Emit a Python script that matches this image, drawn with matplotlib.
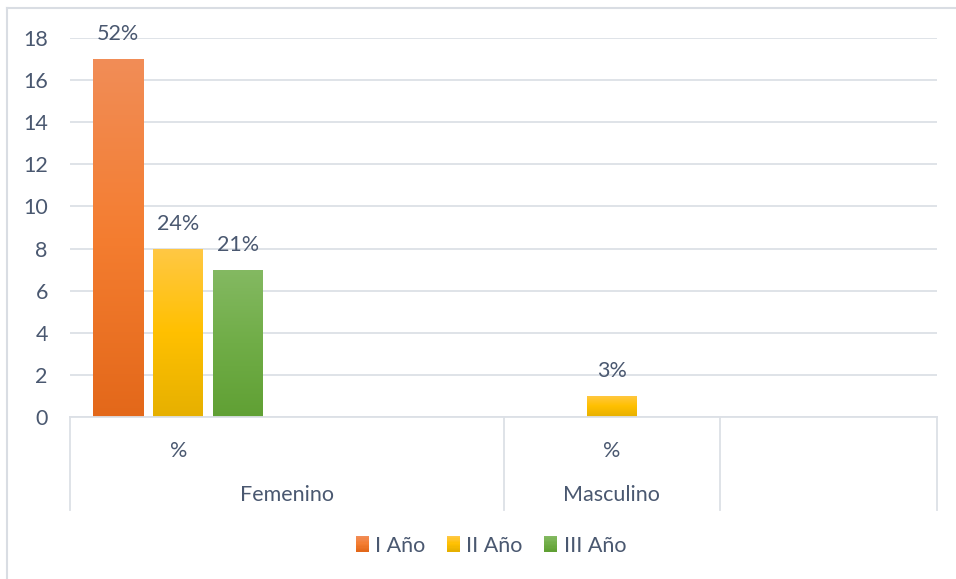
import matplotlib.pyplot as plt
import numpy as np
from matplotlib.colors import LinearSegmentedColormap
from matplotlib.legend_handler import HandlerBase
from matplotlib.patches import Rectangle
import matplotlib.transforms as mtransforms

plt.rcParams['font.family'] = ['Lato', 'DejaVu Sans']

# data: 4 category slots on the axis (Femenino has "%" and a blank slot)
sub_labels = ['%', '', '%', '']
group_labels = ['Femenino', 'Masculino']
group_centers = [0.5, 2]
series = ['I Año', 'II Año', 'III Año']
values = {
    'I Año':   [17, np.nan, np.nan, np.nan],
    'II Año':  [8, np.nan, 1, np.nan],
    'III Año': [7, np.nan, np.nan, np.nan],
}
pct_labels = {
    'I Año':   ['52%', '', '', ''],
    'II Año':  ['24%', '', '3%', ''],
    'III Año': ['21%', '', '', ''],
}

# gradient stops top -> mid -> bottom
grads = {
    'I Año':   ['#F18D57', '#F47D30', '#E3681A'],
    'II Año':  ['#FFC845', '#FFC000', '#E6B000'],
    'III Año': ['#84B962', '#70AD47', '#60A034'],
}
txt_col = '#4A5870'
grid_col = '#DCE0E6'
fs = 15.5

fig = plt.figure(figsize=(9.56, 5.79), dpi=100)
ax = fig.add_axes([70/956, 1 - 417/579, (937 - 70)/956, (417 - 38)/579])

slot_px = (937 - 70) / 4
width = 50 / slot_px
step = 60 / slot_px
x = np.arange(len(sub_labels))

for i, s in enumerate(series):
    cmap = LinearSegmentedColormap.from_list(s, grads[s][::-1])
    bars = ax.bar(x + (i - 1) * step, values[s], width, color='none', edgecolor='none')
    for rect, lab in zip(bars, pct_labels[s]):
        h = rect.get_height()
        if not np.isfinite(h) or h == 0:
            continue
        x0 = rect.get_x()
        grad = np.linspace(0, 1, 256).reshape(-1, 1)
        im = ax.imshow(grad, cmap=cmap, origin='lower', aspect='auto',
                       extent=(x0, x0 + rect.get_width(), 0, h), zorder=2)
        im.set_clip_path(rect)
        ax.annotate(lab, (x0 + rect.get_width() / 2, h), xytext=(0, 18),
                    textcoords='offset points', ha='center', va='center',
                    fontsize=fs, color=txt_col)

ax.set_xlim(-0.5, 3.5)
ax.set_ylim(0, 18)
ax.set_yticks(range(0, 19, 2))
ax.grid(axis='y', color=grid_col, lw=1.3)
ax.set_axisbelow(True)
for sp in ['top', 'right', 'left']:
    ax.spines[sp].set_visible(False)
ax.spines['bottom'].set_color(grid_col)
ax.spines['bottom'].set_linewidth(1.3)
ax.tick_params(axis='y', length=0, pad=16, labelsize=fs, labelcolor=txt_col)
ax.set_xticks(x)
ax.set_xticklabels(sub_labels)
ax.tick_params(axis='x', length=0, pad=17, labelsize=fs, labelcolor=txt_col)

# second level of the category axis
trans = mtransforms.blended_transform_factory(ax.transData, ax.transAxes)
for gx, gl in zip(group_centers, group_labels):
    ax.text(gx, -(495 - 417) / 379, gl, transform=trans, ha='center', va='center',
            fontsize=fs, color=txt_col)
for sx in [-0.5, 1.5, 2.5, 3.5]:
    ax.plot([sx, sx], [0, -(510 - 417) / 379], transform=trans, color=grid_col,
            lw=1.3, clip_on=False)

# chart frame (top and left edges visible)
fig.add_artist(plt.Line2D([7/956, 1], [1 - 8/579] * 2, color='#D9DDE3', lw=1.5))
fig.add_artist(plt.Line2D([7/956] * 2, [0, 1 - 8/579], color='#D9DDE3', lw=1.5))


class GradHandler(HandlerBase):
    def __init__(self, cols):
        super().__init__()
        self.cols = cols

    def create_artists(self, legend, orig, xd, yd, w, h, fontsize, trans):
        cmap = LinearSegmentedColormap.from_list('g', self.cols)
        n = 12
        arts = []
        for k in range(n):
            arts.append(Rectangle((xd, yd + h - (k + 1) * h / n), w, h / n + 0.05,
                                  facecolor=cmap(k / (n - 1)), edgecolor='none',
                                  transform=trans))
        return arts


handles = [Rectangle((0, 0), 1, 1) for s in series]
fig.legend(handles, series, loc='center', bbox_to_anchor=(491/956, 1 - 546/579),
           ncol=3, frameon=False, fontsize=fs, labelcolor=txt_col,
           handlelength=0.6, handleheight=0.75, handletextpad=0.3, columnspacing=1.0,
           handler_map={h: GradHandler(grads[s]) for h, s in zip(handles, series)})

plt.savefig('out.png', dpi=100)
